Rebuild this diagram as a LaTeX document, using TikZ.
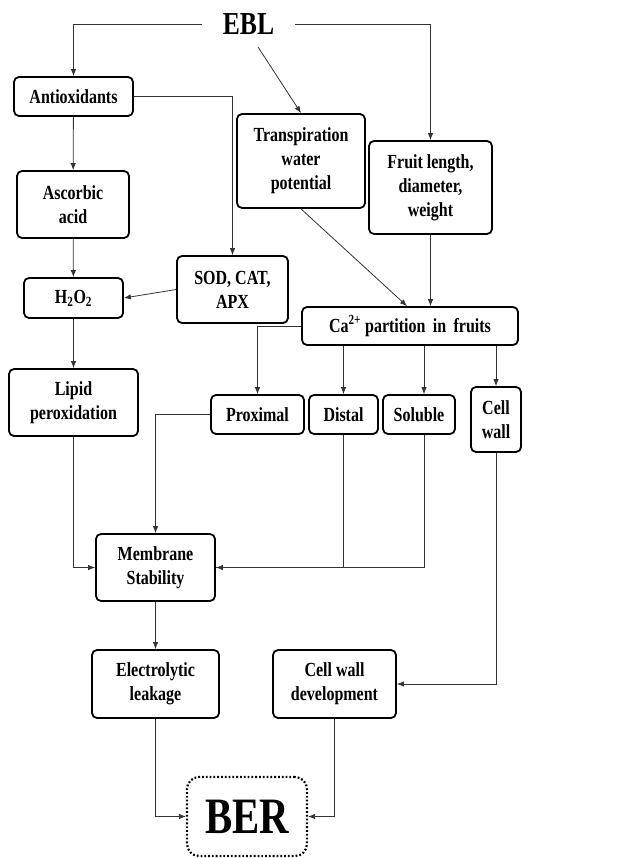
\documentclass[tikz,border=0pt]{standalone}
\usepackage{fontspec}
\setmainfont[FakeStretch=0.8]{Liberation Serif}
\usetikzlibrary{arrows.meta,calc}

\begin{document}
\begin{tikzpicture}
	[
		x = 1pt, y = -1pt,
		font = \fontsize{20}{24}\selectfont\bfseries,
		box/.style = {shape=rectangle, draw=black, line width=1.8pt, rounded corners=5pt, align=center, inner sep=2pt},
		link/.style = {draw=black!80, line width=0.8pt},
		arr/.style = {link, -{Latex[length=7pt, width=5.5pt]}}
	]
	
	\useasboundingbox (0, 0) rectangle (622, 858);
	
	\newcommand{\boxnode}[6]{\node [box, minimum width=#4, minimum height=#5] (#1) at (#2, #3) {#6}; }
	
	\node [minimum width=93pt, font=\fontsize{32}{34}\selectfont\bfseries] (ebl) at (248.5, 24) {EBL};
	
	\boxnode{anti}{73.5}{96.5}{119pt}{39pt}{Antioxidants}
	\boxnode{asc}{73}{204.5}{112pt}{67pt}{Ascorbic\\acid}
	\boxnode{hoo}{73.5}{298}{99pt}{40pt}{H\textsubscript{2}O\textsubscript{2}}
	\boxnode{lipid}{73.5}{402.5}{129pt}{67pt}{Lipid\\peroxidation}
	\boxnode{sod}{232.5}{289.5}{111pt}{67pt}{SOD, CAT,\\APX}
	\boxnode{trans}{301}{161}{128pt}{94pt}{Transpiration\\water\\potential}
	\boxnode{fruit}{430.5}{187.5}{123pt}{93pt}{Fruit length,\\diameter,\\weight}
	\boxnode{ca}{410}{326}{216pt}{38pt}{Ca\textsuperscript{2+} partition\, in\, fruits}
	\boxnode{prox}{257.5}{414.5}{93pt}{39pt}{Proximal}
	\boxnode{dist}{343.5}{414.5}{69pt}{39pt}{Distal}
	\boxnode{sol}{419}{414.5}{72pt}{39pt}{Soluble}
	\boxnode{cw}{496}{419.5}{50pt}{65pt}{Cell\\wall}
	\boxnode{mem}{155.5}{567.5}{119pt}{67pt}{Membrane\\Stability}
	\boxnode{elec}{155.5}{684}{127pt}{68pt}{Electrolytic\\leakage}
	\boxnode{cwd}{334.5}{684}{123pt}{68pt}{Cell wall\\development}
	\node [box, dotted, line width=2.2pt, rounded corners=12pt, minimum width=120pt, minimum height=79pt, font=\fontsize{51}{54}\selectfont\bfseries] (ber) at (247, 816.5) {BER};
	
	\coordinate (eblfoot) at (258, 47);
	
	% EBL
	\draw [arr] (ebl.west) -| (anti.north);
	\draw [arr] (ebl.east) -| (fruit.north);
	\draw [arr] (eblfoot) -- (trans.north);
	
	% antioxidant side
	\draw [arr] (anti.east) -| (sod.north);
	\draw [arr] (anti) -- (asc);
	\draw [arr] (asc) -- (hoo);
	\draw [arr] (hoo) -- (lipid);
	\draw [arr] (sod.west) -- (hoo.east);
	
	% calcium side
	\draw [arr] (trans.south) -- ($(ca.north) + (-3, 0)$);
	\draw [arr] (fruit.south) -- (fruit.south |- ca.north);
	\draw [arr] (ca.west) -| (prox.north);
	\draw [arr] (dist.north |- ca.south) -- (dist.north);
	\draw [arr] ($(sol.north |- ca.south) + (5, 0)$) -- ($(sol.north) + (5, 0)$);
	\draw [arr] (cw.north |- ca.south) -- (cw.north);
	
	% membrane
	\draw [arr] (prox.west) -| (mem.north);
	\draw [arr] (lipid.south) |- (mem.west);
	\draw [link] (dist.south) |- (mem.east);
	\draw [arr] ($(sol.south) + (5, 0)$) |- (mem.east);
	\draw [arr] (mem) -- (elec);
	\draw [arr] (cw.south) |- (cwd.east);
	
	% BER
	\draw [arr] (elec.south) |- (ber.west);
	\draw [arr] (cwd.south) |- (ber.east);
\end{tikzpicture}
\end{document}
